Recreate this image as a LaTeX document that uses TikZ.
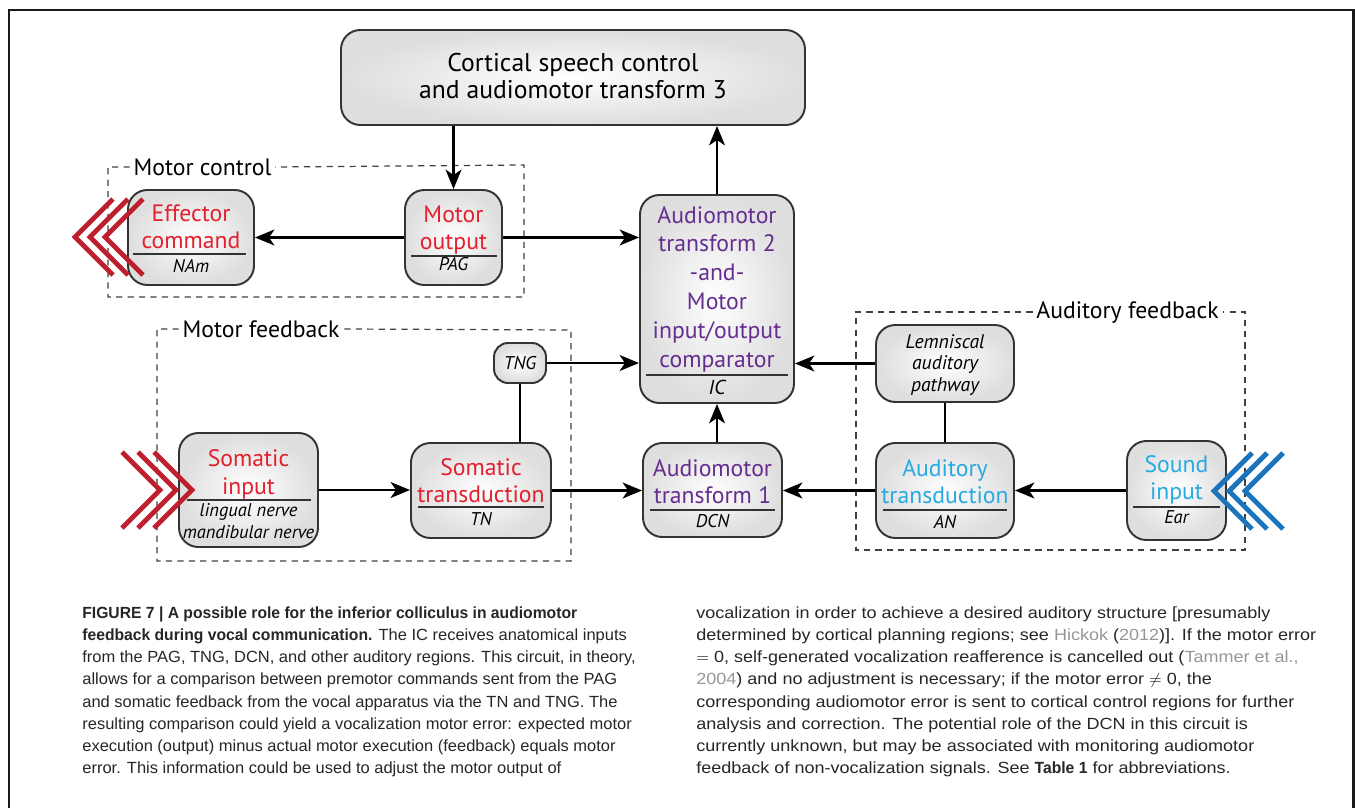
\documentclass[tikz,border=0pt]{standalone}
\usepackage{fontspec}
\setmainfont{PT Sans}
\newfontfamily\capL[FakeStretch=1.02]{Liberation Sans}
\newfontfamily\capLb[FakeStretch=0.97]{Liberation Sans}
\newfontfamily\capR[FakeStretch=1.115]{Liberation Sans}
\usetikzlibrary{arrows.meta,fit}

\definecolor{fxred}{RGB}{226,32,46}
\definecolor{chevred}{RGB}{190,30,45}
\definecolor{fxpurple}{RGB}{102,45,145}
\definecolor{fxcyan}{RGB}{39,170,225}
\definecolor{chevblue}{RGB}{28,117,188}
\definecolor{linkgray}{RGB}{150,150,150}

\tikzset{
  box/.style={draw=black!80, line width=1.1pt, rounded corners=11pt,
    inner color=white, outer color=black!13, inner sep=0pt},
  main/.style={align=center, inner sep=0pt,
    font=\fontsize{13.5}{15.5}\selectfont},
  sub/.style={align=center, inner sep=0pt,
    font=\fontsize{10.5}{12.5}\selectfont\itshape},
  grp/.style={inner sep=2pt, font=\fontsize{13.5}{15}\selectfont},
  grpline/.style={black!75, line width=0.7pt, dash pattern=on 3.5pt off 3pt},
  conn/.style={line width=1.5pt, -{Stealth[length=11pt,width=9pt,inset=3pt]}},
  link/.style={line width=1.5pt},
  rulerline/.style={line width=0.8pt, black!80},
  chev/.style={line width=2.8pt},
  captxt/.style={anchor=north west, align=left, inner sep=0pt, text=black!85}
}

\begin{document}
\begin{tikzpicture}[x=0.02cm,y=-0.02cm]
  \useasboundingbox (0,0) rectangle (1355,808);
  \draw[line width=1.7pt, black!90] (9,808) -- (9,10) -- (1353,10) -- (1353,808);

  % ------ boxes ------
  \node[box, fit={(341,30)(805,125)}] (cort) {};
  \node[main, font=\fontsize{14.6}{15.5}\selectfont] (cortT) at (573,76)
    {Cortical speech control\\and audiomotor transform 3};

  \node[box, fit={(128,190)(254,285)}] (eff) {};
  \node[main, fxred] (effT) at (191,226.5) {Effector\\command};
  \draw[rulerline] (133,254) -- (246,254);
  \node[sub] (effS) at (191,266) {NAm};

  \node[box, fit={(405,190)(502,285)}] (mot) {};
  \node[main, fxred] (motT) at (453.5,230) {Motor\\output};
  \draw[rulerline] (411,256) -- (497,256);
  \node[sub] (motS) at (453.5,264) {PAG};

  \node[box, fit={(640,195)(794,403)}] (ic) {};
  \node[main, fxpurple, font=\fontsize{13.5}{16.4}\selectfont] (icT) at (717,289)
    {Audiomotor\\transform 2\\-and-\\Motor\\input/output\\comparator};
  \draw[rulerline] (646,375) -- (788,375);
  \node[sub, font=\fontsize{11.5}{13}\selectfont\itshape] (icS) at (717,387) {IC};

  \node[box, fit={(179,433)(318,547)}] (si) {};
  \node[main, fxred] (siT) at (248.5,474.5) {Somatic\\input};
  \draw[rulerline] (187,500) -- (311,500);
  \node[sub] (siS) at (248.5,521.5) {lingual nerve\\mandibular nerve};

  \node[box, fit={(411,443)(551,538)}] (st) {};
  \node[main, fxred] (stT) at (481,480.5) {Somatic\\transduction};
  \draw[rulerline] (418,507) -- (544,507);
  \node[sub] (stS) at (481,519.5) {TN};

  \node[box, rounded corners=8pt, fit={(494,343)(546,383)}] (tng) {};
  \node[sub] (tngT) at (520,363) {TNG};

  \node[box, fit={(643,443)(782,537)}] (dcn) {};
  \node[main, fxpurple] (dcnT) at (712.5,482) {Audiomotor\\transform 1};
  \draw[rulerline] (650,510) -- (775,510);
  \node[sub] (dcnS) at (712.5,521) {DCN};

  \node[box, fit={(876,325)(1014,402)}] (lem) {};
  \node[sub, font=\fontsize{11.2}{12.2}\selectfont\itshape] (lemT) at (945,365)
    {Lemniscal\\auditory\\pathway};

  \node[box, fit={(876,443)(1014,538)}] (at) {};
  \node[main, fxcyan] (atT) at (945,482) {Auditory\\transduction};
  \draw[rulerline] (883,510) -- (1007,510);
  \node[sub] (atS) at (945,522) {AN};

  \node[box, fit={(1127,441)(1226,540)}] (snd) {};
  \node[main, fxcyan] (sndT) at (1176.5,480) {Sound\\input};
  \draw[rulerline] (1133,507) -- (1220,507);
  \node[sub] (sndS) at (1176.5,517.5) {Ear};

  % ------ groups ------
  \node[grp] (mctl) at (202.5,167) {Motor control};
  \draw[grpline] (mctl.west) -| (108,297) -| (524,165) -- (mctl.east);
  \node[grp] (mfb) at (261,329) {Motor feedback};
  \draw[grpline] (mfb.west) -| (157,561) -| (571,330) -- (mfb.east);
  \node[grp] (afb) at (1127.5,312) {Auditory feedback};
  \draw[grpline] (afb.west) -| (856,550) -| (1245,312) -- (afb.east);

  % ------ connectors ------
  \draw[conn] (mot.north |- cort.south) -- (mot.north);
  \draw[conn] (ic.north) -- (ic.north |- cort.south);
  \draw[conn] (mot.west) -- (eff.east);
  \draw[conn] (mot.east) -- (mot.east -| ic.west);
  \draw[conn] (tng.east) -- (tng.east -| ic.west);
  \draw[link] (tng.south) -- (tng.south |- st.north);
  \draw[conn] (si.east) -- (si.east -| st.west);
  \draw[conn] (st.east) -- (st.east -| dcn.west);
  \draw[conn] (dcn.north -| ic.south) -- (ic.south);
  \draw[conn] (at.west) -- (at.west -| dcn.east);
  \draw[conn] (snd.west) -- (snd.west -| at.east);
  \draw[conn] (lem.west) -- (lem.west -| ic.east);
  \draw[link] (lem.south) -- (at.north);

  % ------ chevrons ------
  \draw[chev, chevred] (113,199) -- (75,237) -- (113,275);
  \draw[chev, chevred] (128,199) -- (90,237) -- (128,275);
  \draw[chev, chevred] (143,199) -- (105,237) -- (143,275);
  \draw[chev, chevred] (122,452) -- (160,490) -- (122,528);
  \draw[chev, chevred] (138,452) -- (176,490) -- (138,528);
  \draw[chev, chevred] (154,452) -- (192,490) -- (154,528);
  \draw[chev, chevblue] (1252,453) -- (1214,491) -- (1252,529);
  \draw[chev, chevblue] (1267,453) -- (1229,491) -- (1267,529);
  \draw[chev, chevblue] (1283,453) -- (1245,491) -- (1283,529);

  % ------ caption ------
  \node[captxt, font=\capL\fontsize{9.2}{12.66}\selectfont] (capL) at (82,606)
    {{\capLb\bfseries FIGURE 7 | A possible role for the inferior colliculus in audiomotor}\\
     {\capLb\bfseries feedback during vocal communication.} The IC receives anatomical inputs\\
     from the PAG, TNG, DCN, and other auditory regions. This circuit, in theory,\\
     allows for a comparison between premotor commands sent from the PAG\\
     and somatic feedback from the vocal apparatus via the TN and TNG. The\\
     resulting comparison could yield a vocalization motor error: expected motor\\
     execution (output) minus actual motor execution (feedback) equals motor\\
     error. This information could be used to adjust the motor output of};
  \node[captxt, font=\capR\fontsize{9.2}{12.66}\selectfont] (capR) at (696,606)
    {vocalization in order to achieve a desired auditory structure [presumably\\
     determined by cortical planning regions; see {\color{linkgray}Hickok} ({\color{linkgray}2012})]. If the motor error\\
     $=$ 0, self-generated vocalization reafference is cancelled out ({\color{linkgray}Tammer et al.,}\\
     {\color{linkgray}2004}) and no adjustment is necessary; if the motor error $\neq$ 0, the\\
     corresponding audiomotor error is sent to cortical control regions for further\\
     analysis and correction. The potential role of the DCN in this circuit is\\
     currently unknown, but may be associated with monitoring audiomotor\\
     feedback of non-vocalization signals. See {\capLb\bfseries Table 1} for abbreviations.};
\end{tikzpicture}
\end{document}
